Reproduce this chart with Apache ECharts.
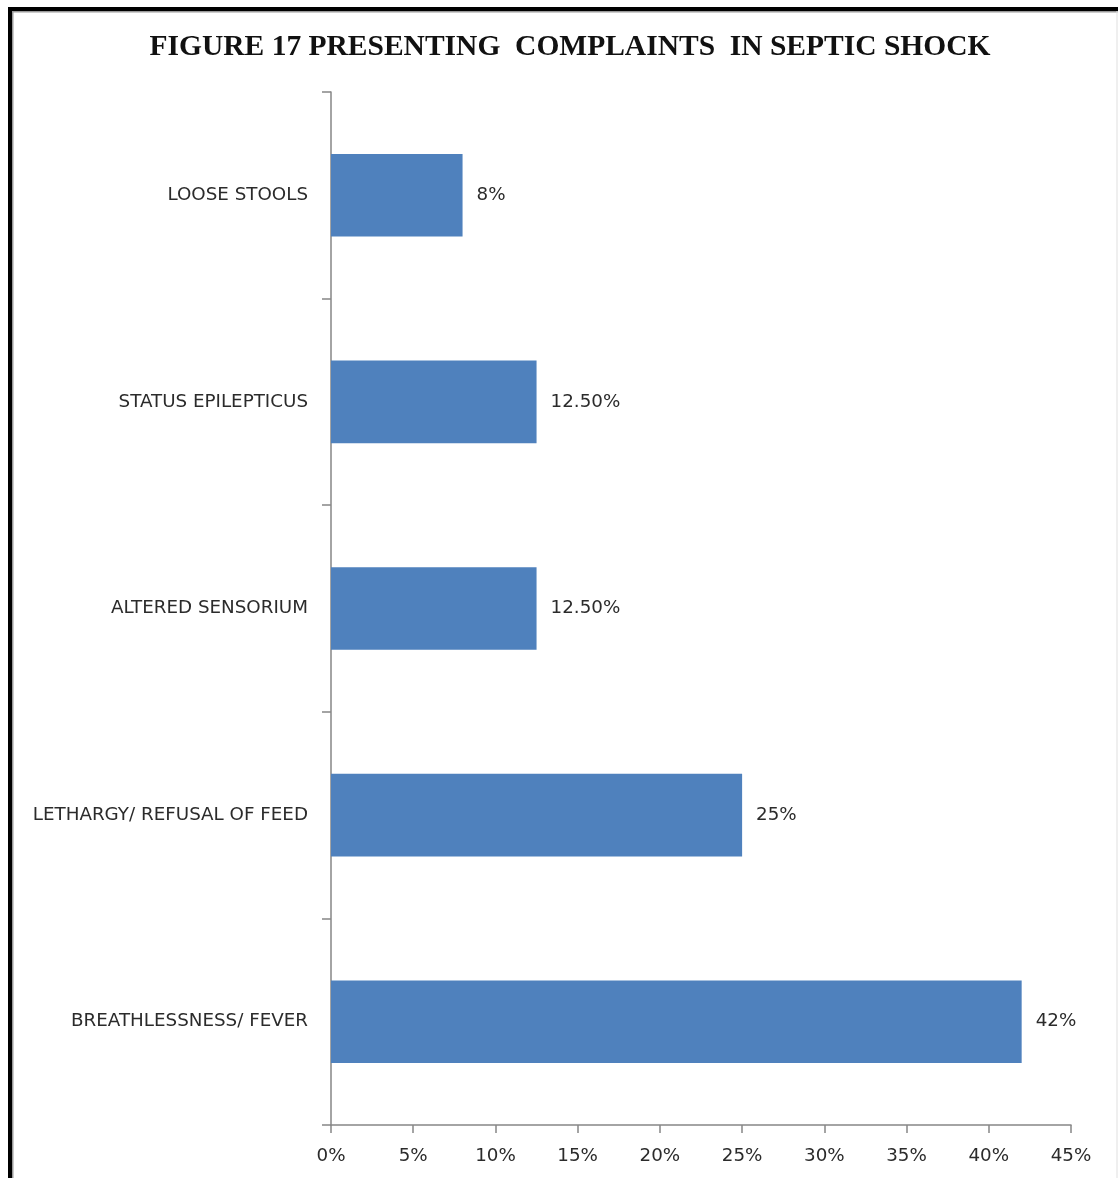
<!DOCTYPE html>
<html>
<head>
<meta charset="utf-8">
<script src="https://cdn.jsdelivr.net/npm/echarts@6/dist/echarts.min.js"></script>
<style>
  html, body { margin: 0; padding: 0; background: #fff; }
  #chart { width: 1118px; height: 1178px; }
</style>
</head>
<body>
<div id="chart"></div>
<script>
// Presenting complaints, listed bottom to top on the category axis
const complaints = [
  'BREATHLESSNESS/ FEVER',
  'LETHARGY/ REFUSAL OF FEED',
  'ALTERED SENSORIUM',
  'STATUS EPILEPTICUS',
  'LOOSE STOOLS'
];
// Share of septic shock cases (%)
const shares = [42, 25, 12.5, 12.5, 8];
// Percentage axis ticks
const axisMin = 0;
const axisMax = 45;
const axisStep = 5;

const chart = echarts.init(document.getElementById('chart'), null, { renderer: 'canvas' });

const axisGray = '#868686';
const textColor = '#2b2b2b';
const labelFont = '"DejaVu Sans", "Noto Sans", sans-serif';
const labelSize = 18.3;

function pctLabel(v) {
  return (Number.isInteger(v) ? String(v) : v.toFixed(2)) + '%';
}

chart.setOption({
  animation: false,
  backgroundColor: '#ffffff',
  title: {
    text: 'FIGURE 17 PRESENTING  COMPLAINTS  IN SEPTIC SHOCK',
    left: 565,
    textAlign: 'center',
    top: 27,
    textStyle: {
      fontFamily: '"Liberation Serif", "DejaVu Serif", serif',
      fontWeight: 'bold',
      fontSize: 29.5,
      color: '#111'
    }
  },
  grid: { left: 331, right: 47, top: 92, bottom: 53, containLabel: false },
  xAxis: {
    type: 'value',
    min: axisMin,
    max: axisMax,
    interval: axisStep,
    splitLine: { show: false },
    axisLine: { show: true, lineStyle: { color: axisGray, width: 1.5 } },
    axisTick: { show: true, length: 8, lineStyle: { color: axisGray, width: 1.5 } },
    axisLabel: {
      formatter: '{value}%',
      margin: 22,
      fontFamily: labelFont,
      fontSize: labelSize,
      color: textColor
    }
  },
  yAxis: {
    type: 'category',
    data: complaints,
    axisLine: { show: true, lineStyle: { color: axisGray, width: 1.5 } },
    axisTick: { show: true, length: 9, alignWithLabel: false, lineStyle: { color: axisGray, width: 1.5 } },
    axisLabel: {
      margin: 23,
      fontFamily: labelFont,
      fontSize: labelSize,
      color: textColor
    }
  },
  series: [{
    type: 'bar',
    data: shares,
    barWidth: '40%',
    itemStyle: { color: '#4f81bd' },
    label: {
      show: true,
      position: 'right',
      distance: 14,
      formatter: p => pctLabel(p.value),
      fontFamily: labelFont,
      fontSize: labelSize,
      color: textColor
    }
  }],
  graphic: [
    // outer frame
    { type: 'rect', silent: true, shape: { x: 8, y: 7, width: 4, height: 1180 }, style: { fill: '#000' } },
    { type: 'rect', silent: true, shape: { x: 8, y: 7, width: 1112, height: 4 }, style: { fill: '#000' } },
    { type: 'rect', silent: true, shape: { x: 12, y: 11, width: 1.5, height: 1170 }, style: { fill: '#9a9a9a' } },
    { type: 'rect', silent: true, shape: { x: 12, y: 11, width: 1110, height: 1.5 }, style: { fill: '#9a9a9a' } },
    { type: 'rect', silent: true, shape: { x: 1116.5, y: 11, width: 1, height: 1170 }, style: { fill: '#e0e0e0' } }
  ]
});
</script>
</body>
</html>
